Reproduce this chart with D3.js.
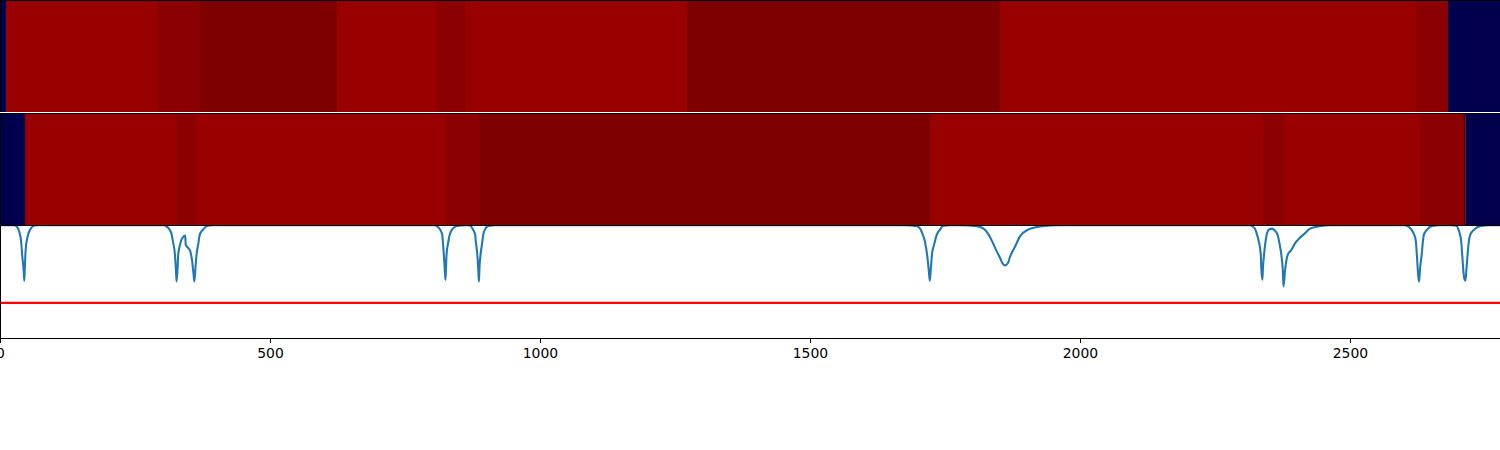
<!DOCTYPE html>
<html><head><meta charset="utf-8">
<script src="https://cdn.jsdelivr.net/npm/d3@7"></script>
<style>html,body{margin:0;padding:0;background:#fff;overflow:hidden}svg{display:block}</style>
</head><body><svg id="c" width="1500" height="450"></svg>
<script>
const xMax = 2778;
const tickValues = [0, 500, 1000, 1500, 2000, 2500];
const threshold = 0.311;

const edgesA = [0, 11, 291, 370, 624, 807, 861, 1272, 1852, 2622, 2681, 2778];
const levelsA = ["low", "high", "mid", "dark", "high", "mid", "high", "dark", "high", "mid", "low"];
const edgesB = [0, 46, 328, 363, 826, 887, 1722, 2339, 2378, 2630, 2711, 2713, 2715, 2778];
const levelsB = ["low", "high", "mid", "high", "mid", "dark", "high", "mid", "high", "mid", "low", "high", "low"];
const levelNames = ["low", "high", "mid", "dark"];
const levelColors = ["#00004c", "#990000", "#8b0000", "#7f0000"];

const lineX = [0,26,31,35,37,39,41,44,45,46,47,48,50,52,56,61,70,
 302,309,314,318,320,324,326,327,329,330,333,336,340,343,344,348,352,356,358,360,362,364,367,370,376,383,393,
 804,809,815,819,820,822,824,825,826,827,830,833,837,846,861,
 867,872,876,880,881,884,886,887,888,890,893,895,898,904,917,
 1676,1698,1704,1709,1713,1717,1720,1722,1724,1726,1730,1735,1741,1746,1759,1778,
 1809,1824,1836,1846,1852,1857,1861,1867,1870,1880,1889,1904,1926,1963,
 2315,2320,2325,2328,2331,2335,2336,2338,2339,2341,2343,2346,2350,2356,2361,2366,2370,2373,2376,2377,2380,2385,2392,2398,2407,2417,2426,2444,2463,
 2602,2607,2614,2619,2622,2624,2626,2628,2630,2633,2635,2637,2643,2651,2667,
 2689,2698,2701,2704,2706,2708,2710,2712,2714,2716,2718,2720,2723,2730,2741,2759,2778];
const lineY = [1,1,.987,.951,.916,.862,.738,.587,.507,.622,.738,.809,.871,.916,.960,.991,1,
 1,.987,.960,.916,.862,.738,.587,.500,.622,.738,.818,.871,.898,.907,.827,.800,.773,.676,.587,.500,.622,.738,.827,.916,.960,.991,1,
 1,.991,.960,.916,.862,.738,.587,.516,.622,.738,.844,.916,.960,.991,1,
 1,.991,.960,.916,.862,.738,.587,.500,.622,.738,.844,.916,.960,.991,1,
 1,.991,.969,.916,.853,.738,.604,.507,.622,.738,.827,.916,.960,.991,1,1,
 .991,.960,.871,.767,.711,.658,.643,.667,.711,.811,.900,.960,.987,1,
 1,.987,.960,.916,.862,.738,.604,.516,.622,.738,.827,.916,.960,.969,.951,.916,.827,.738,.578,.456,.604,.738,.782,.836,.886,.929,.969,.991,1,
 1,.991,.960,.916,.862,.738,.587,.498,.622,.738,.844,.916,.960,.991,1,
 1,.991,.960,.916,.862,.738,.604,.524,.507,.622,.738,.844,.916,.960,.991,1,1];

const svg = d3.select("#c");
const x = d3.scaleLinear().domain([0, xMax]).range([0, 1500]);
const y = d3.scaleLinear().domain([0, 1]).range([338, 225.1]);
const color = d3.scaleOrdinal().domain(levelNames).range(levelColors);

function strip(edges, levels, top, bottom) {
  svg.append("g").attr("shape-rendering", "crispEdges")
    .selectAll("rect").data(levels).join("rect")
    .attr("x", (d, i) => x(edges[i]))
    .attr("width", (d, i) => x(edges[i + 1]) - x(edges[i]))
    .attr("y", top).attr("height", bottom - top)
    .attr("fill", d => color(d));
}
strip(edgesA, levelsA, 0, 112);
strip(edgesB, levelsB, 113, 225);

svg.append("defs").append("clipPath").attr("id", "plot")
  .append("rect").attr("x", 0).attr("y", 225.5).attr("width", 1500).attr("height", 113);

svg.append("line").attr("x1", x(0)).attr("x2", x(xMax))
  .attr("y1", y(threshold)).attr("y2", y(threshold))
  .attr("stroke", "#ff0000").attr("stroke-width", 2.08);

const line = d3.line().x(d => x(d[0])).y(d => y(d[1])).curve(d3.curveMonotoneX);
svg.append("path").datum(lineX.map((v, i) => [v, lineY[i]]))
  .attr("d", line).attr("fill", "none").attr("clip-path", "url(#plot)")
  .attr("stroke", "#1f77b4").attr("stroke-width", 2.08).attr("stroke-linejoin", "round");

// Spines as crisp one-pixel rows and columns
const spines = svg.append("g").attr("stroke", "#000").attr("stroke-width", 1).attr("shape-rendering", "crispEdges");
[0.5, 113.5, 225.5, 338.5].forEach(r => spines.append("line").attr("x1", 0).attr("x2", 1500).attr("y1", r).attr("y2", r));
[[0, 112], [113, 225], [225, 338]].forEach(s => spines.append("line").attr("x1", 0.5).attr("x2", 0.5).attr("y1", s[0]).attr("y2", s[1]));

const axis = d3.axisBottom(x).tickValues(tickValues).tickFormat(d3.format("d")).tickSize(4.9).tickPadding(4.9);
const ag = svg.append("g").attr("transform", "translate(0,338)").call(axis);
ag.select(".domain").remove();
ag.selectAll("line").attr("stroke", "#000").attr("stroke-width", 1).attr("shape-rendering", "crispEdges");
ag.selectAll("text").attr("fill", "#000").attr("font-family", "DejaVu Sans").attr("font-size", "13.9px");
</script></body></html>
